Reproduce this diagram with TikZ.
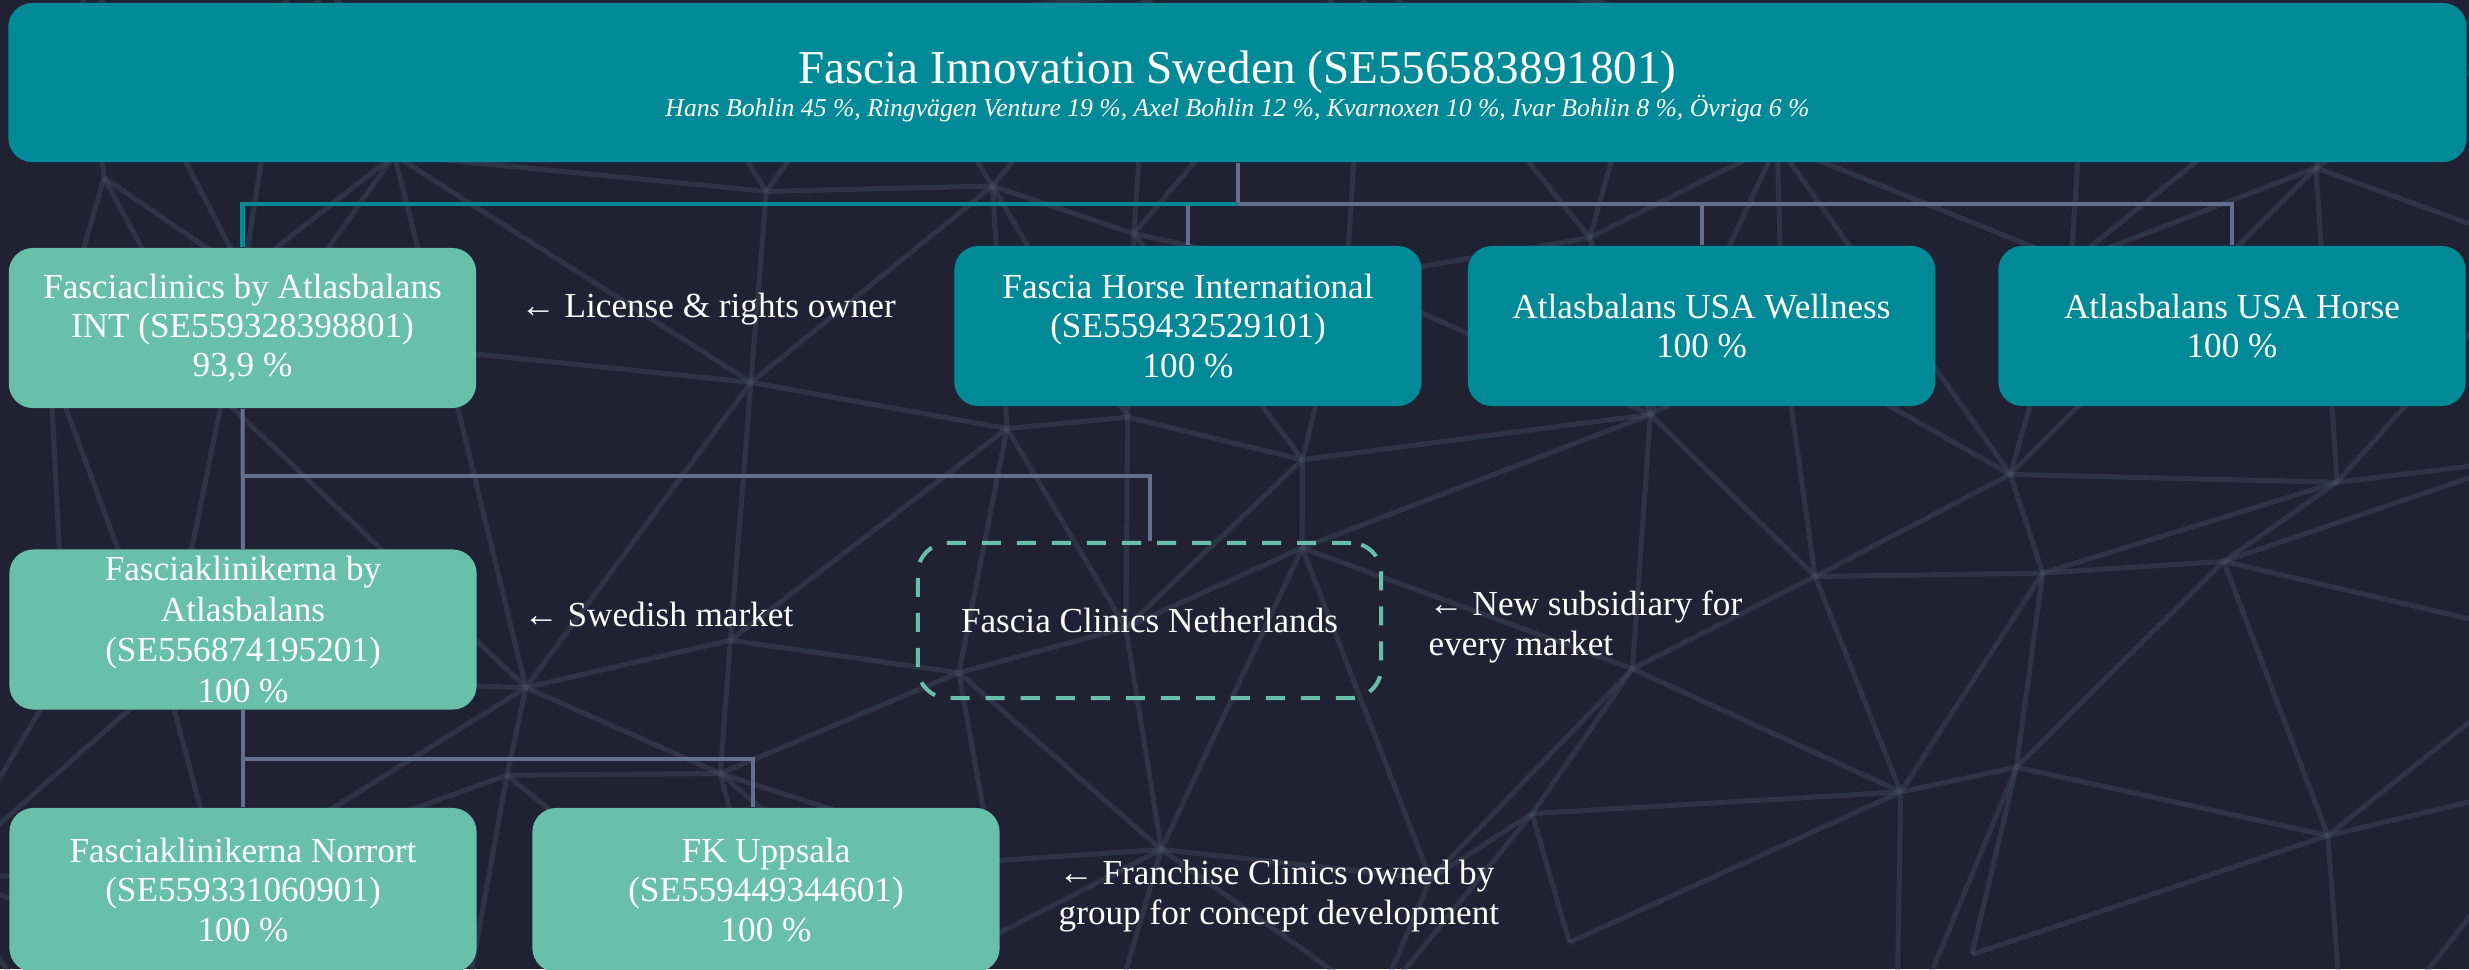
\documentclass[tikz,border=0pt]{standalone}
\usepackage{fontspec}
\setmainfont{Liberation Serif}
\usetikzlibrary{positioning}
\definecolor{bg}{HTML}{202234}
\definecolor{web}{HTML}{4A5468}
\definecolor{fteal}{HTML}{008A98}
\definecolor{fgreen}{HTML}{69C0AA}
\definecolor{fline}{HTML}{646E8E}
\definecolor{tline}{HTML}{0A8896}

\begin{document}
\begin{tikzpicture}[x=0.01cm,y=-0.01cm,
  box/.style={rounded corners=0.24cm,minimum width=4.67cm,minimum height=1.6cm,align=center,text=white,inner sep=0pt,font=\fontsize{10}{11.2}\selectfont},
  tbox/.style={box,fill=fteal},
  gbox/.style={box,fill=fgreen},
  nbox/.style={box,draw=fgreen,line width=0.04cm,dash pattern=on 0.19cm off 0.16cm,rounded corners=0.3cm,minimum width=4.63cm,minimum height=1.55cm},
  note/.style={anchor=west,align=left,text=white,inner sep=0pt,font=\fontsize{10}{11.6}\selectfont},
  link/.style={draw=fline,line width=0.04cm},
  tlink/.style={draw=tline,line width=0.045cm},
  strand/.style={draw=web,line width=0.05cm,opacity=0.35}]

  \useasboundingbox (0,0) rectangle (2469,969);
  \fill[bg] (0,0) rectangle (2469,969);

  % faint web in the back: jittered grid, joined to neighbours
  \pgfmathsetseed{4711}
  \foreach \i in {0,...,11}{
    \foreach \j in {0,...,5}{
      \pgfmathsetmacro\px{\i*225-60+rnd*170}
      \pgfmathsetmacro\py{\j*200-60+rnd*150}
      \coordinate (p-\i-\j) at (\px,\py);
    }
  }
  \foreach \i [evaluate=\i as \k using int(\i+1)] in {0,...,10}{
    \foreach \j [evaluate=\j as \l using int(\j+1)] in {0,...,4}{
      \draw[strand] (p-\i-\j) -- (p-\k-\j);
      \draw[strand] (p-\i-\j) -- (p-\i-\l);
      \pgfmathparse{rnd>0.5 ? 1 : 0}
      \ifnum\pgfmathresult=1
        \draw[strand] (p-\i-\j) -- (p-\k-\l);
      \else
        \draw[strand] (p-\k-\j) -- (p-\i-\l);
      \fi
    }
  }

  % owner
  \node[tbox,minimum width=24.57cm,minimum height=1.59cm] (1) at (1237.5,82.5)
    {\rule{0pt}{11.5pt}{\fontsize{13.4}{15}\selectfont Fascia Innovation Sweden (SE556583891801)}\\[-2pt]
     {\fontsize{7.3}{9}\selectfont\itshape Hans Bohlin 45 \%, Ringvägen Venture 19 \%, Axel Bohlin 12 \%, Kvarnoxen 10 \%, Ivar Bohlin 8 \%, Övriga 6 \%}};

  % first level
  \node[gbox] (2) at (242.5,328) {Fasciaclinics by Atlasbalans\\INT (SE559328398801)\\93,9 \%};
  \node[tbox] (3) at (1188,326) {Fascia Horse International\\(SE559432529101)\\100 \%};
  \node[tbox] (4) at (1701.5,326) {Atlasbalans USA Wellness\\100 \%};
  \node[tbox] (5) at (2232,326) {Atlasbalans USA Horse\\100 \%};

  % second level
  \node[gbox,font=\fontsize{10}{11.6}\selectfont] (6) at (243,629.5) {Fasciaklinikerna by\\Atlasbalans\\(SE556874195201)\\100 \%};
  \node[nbox] (7) at (1149.5,620.5) {Fascia Clinics Netherlands};

  % clinics
  \node[gbox,minimum height=1.64cm] (8) at (243,890) {Fasciaklinikerna Norrort\\(SE559331060901)\\100 \%};
  \node[gbox,minimum height=1.64cm] (9) at (766,890) {FK Uppsala\\(SE559449344601)\\100 \%};

  % notes
  \node[note] (n2) at (520,309) {← License \& rights owner};
  \node[note] (n6) at (523,614) {← Swedish market};
  \node[note] (n7) at (1428,627) {← New subsidiary for\\every market};
  \node[note] (n8) at (1058,896) {← Franchise Clinics owned by\\group for concept development};

  \coordinate (b1) at (1237.5,204);
  \coordinate (b2) at (242.5,476);
  \coordinate (b3) at (243,759);

  \draw[link] (1) -- (b1) -| (3);
  \draw[link] (b1) -| (4);
  \draw[link] (b1) -| (5);
  \draw[tlink] (b1) -| (2);
  \draw[link] (2) -- (6);
  \draw[link] (b2) -| (7);
  \draw[link] (6) -- (8);
  \draw[link] (b3) -| ([xshift=-0.13cm]9.north);

\end{tikzpicture}
\end{document}
